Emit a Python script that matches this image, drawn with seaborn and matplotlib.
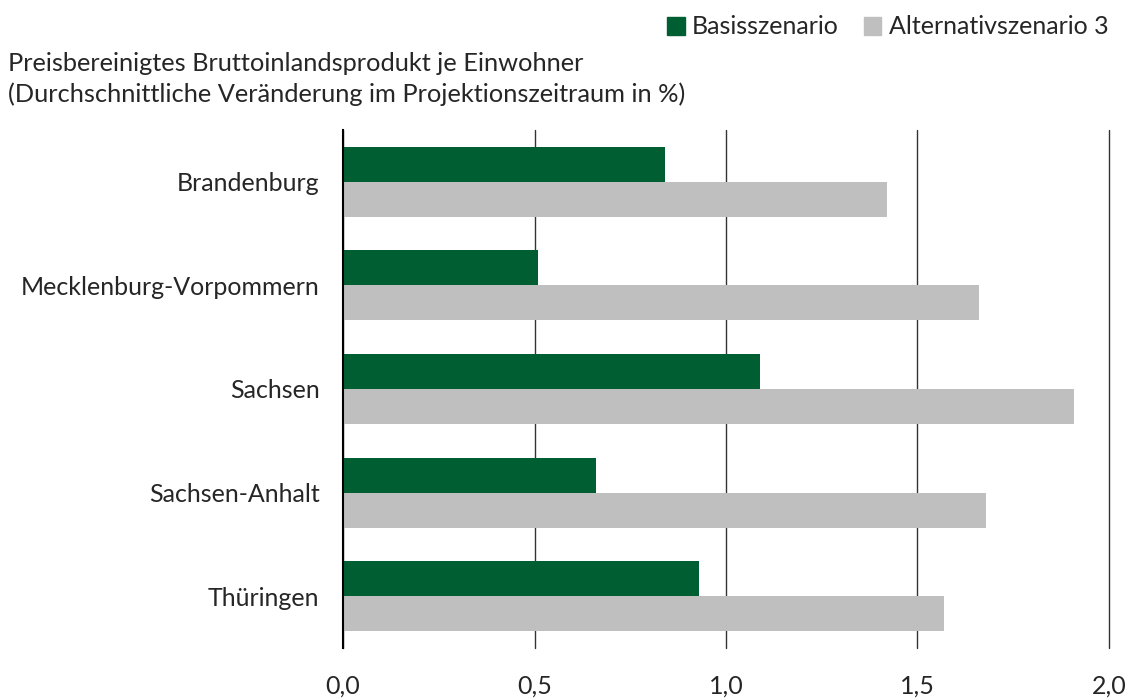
import pandas as pd
import seaborn as sns
import matplotlib.pyplot as plt
from matplotlib.patches import Patch
from matplotlib.ticker import FuncFormatter

laender = ["Brandenburg", "Mecklenburg-Vorpommern", "Sachsen", "Sachsen-Anhalt", "Thüringen"]
basis = [0.84, 0.51, 1.09, 0.66, 0.93]
alternativ = [1.42, 1.66, 1.91, 1.68, 1.57]
szenarien = ["Basisszenario", "Alternativszenario 3"]
farben = ["#005f32", "#bfbfbf"]

df = pd.DataFrame({"Land": laender * 2,
                   "Szenario": [szenarien[0]] * 5 + [szenarien[1]] * 5,
                   "Wert": basis + alternativ})

sns.set_style("white")
plt.rcParams['font.family'] = ['Lato', 'DejaVu Sans']

fig = plt.figure(figsize=(11.31, 7), dpi=100)
ax = fig.add_axes([0.3033, 0.0743, 0.6772, 0.74])

sns.barplot(data=df, y="Land", x="Wert", hue="Szenario", palette=farben,
            width=0.675, orient="h", ax=ax, legend=False, saturation=1, linewidth=0)

ax.set_xlim(0, 2.0)
ax.set_ylim(4.5, -0.5)
ax.set_xticks([0, 0.5, 1.0, 1.5, 2.0])
ax.xaxis.set_major_formatter(FuncFormatter(lambda v, p: f"{v:.1f}".replace(".", ",")))
ax.grid(axis="x", color="#333333", linewidth=1)
for gl in ax.get_xgridlines():
    gl.set_clip_on(False)
ax.set_axisbelow(True)
for s in ["top", "right", "bottom"]:
    ax.spines[s].set_visible(False)
ax.spines["left"].set_color("black")
ax.spines["left"].set_linewidth(1.5)
ax.tick_params(axis="x", length=0, pad=19, labelsize=18)
ax.tick_params(axis="y", length=0, pad=17, labelsize=18)
ax.set_xlabel("")
ax.set_ylabel("")

fig.text(0.007, 0.887, "Preisbereinigtes Bruttoinlandsprodukt je Einwohner\n"
         "(Durchschnittliche Veränderung im Projektionszeitraum in %)",
         fontsize=18.3, va="center", ha="left", linespacing=1.35)

handles = [Patch(color=c, label=l) for c, l in zip(farben, szenarien)]
fig.legend(handles=handles, loc="upper right", bbox_to_anchor=(1.0, 1.01), ncol=2,
           frameon=False, fontsize=18, handlelength=0.7, handleheight=0.7,
           handletextpad=0.3, columnspacing=1.0)

plt.savefig("out.png", dpi=100)
